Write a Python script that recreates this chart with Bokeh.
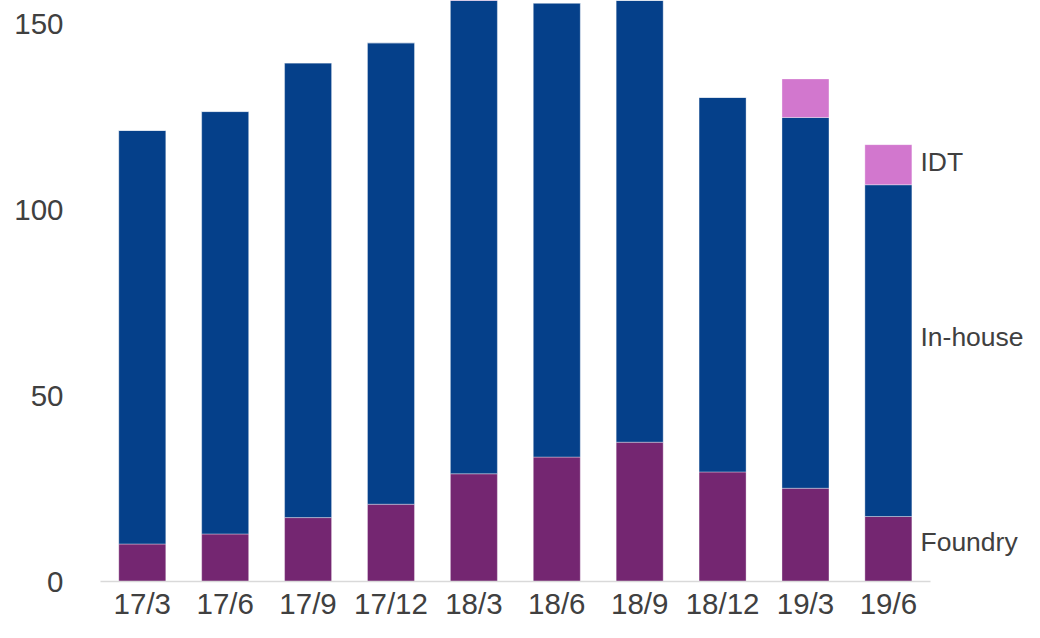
from bokeh.plotting import figure
from bokeh.models import ColumnDataSource, FixedTicker, Range1d
from bokeh.core.properties import value
from bokeh.embed import file_html
from bokeh.resources import INLINE

# ---- data ----
periods = ["17/3", "17/6", "17/9", "17/12", "18/3", "18/6", "18/9", "18/12", "19/3", "19/6"]
foundry = [10.1, 12.8, 17.2, 20.8, 29.0, 33.5, 37.5, 29.5, 25.1, 17.5]
inhouse = [111.3, 113.7, 122.4, 124.2, 128.5, 122.2, 118.9, 100.8, 99.8, 89.3]
idt = [0, 0, 0, 0, 0, 0, 0, 0, 10.4, 10.8]
series = ["Foundry", "In-house", "IDT"]
y_ticks = [0, 50, 100, 150]
label_values = [10.6, 65.7, 113.0]  # vertical centres of the right-hand series labels

colors = ["#742671", "#05408A", "#D277CE"]
text_color = "#404040"
font = "Liberation Sans"

idx = list(range(len(periods)))
source = ColumnDataSource(dict(idx=idx, Foundry=foundry, IDT=idt, **{"In-house": inhouse}))

p = figure(
    width=1024, height=622,
    x_range=Range1d(-0.504, 10.642),
    y_range=Range1d(0, 156.4),
    output_backend="svg", toolbar_location=None,
    min_border_left=100, min_border_right=0, min_border_top=0, min_border_bottom=40,
)
p.outline_line_color = None
p.background_fill_color = "white"
p.border_fill_color = "white"

p.vbar_stack(series, x="idx", width=0.567, source=source, color=colors,
             line_color="white", line_alpha=0.35, line_width=1)

p.xgrid.visible = False
p.ygrid.visible = False

# y axis
p.yaxis.ticker = FixedTicker(ticks=y_ticks)
p.yaxis.axis_line_color = None
p.yaxis.major_tick_line_color = None
p.yaxis.minor_tick_line_color = None
p.yaxis.major_tick_out = 0
p.yaxis.major_tick_in = 0
p.yaxis.major_label_standoff = 37
p.yaxis.major_label_text_font = font
p.yaxis.major_label_text_font_size = "29.5px"
p.yaxis.major_label_text_color = text_color

# x axis
p.xaxis.ticker = FixedTicker(ticks=idx)
p.xaxis.major_label_overrides = {i: lab for i, lab in zip(idx, periods)}
p.xaxis.bounds = (-0.504, len(periods) - 0.496)
p.xaxis.axis_line_color = "#D9D9D9"
p.xaxis.axis_line_width = 1.5
p.xaxis.major_tick_line_color = None
p.xaxis.minor_tick_line_color = None
p.xaxis.major_tick_out = 0
p.xaxis.major_tick_in = 0
p.xaxis.major_label_standoff = 5
p.xaxis.major_label_text_font = font
p.xaxis.major_label_text_font_size = "29.5px"
p.xaxis.major_label_text_color = text_color

# right-hand series labels (next to the last bar)
lab_src = ColumnDataSource(dict(x=[idx[-1] + 0.387] * len(series), y=label_values, text=series))
p.text(x="x", y="y", text="text", source=lab_src, text_font=value(font),
       text_font_size="26.5px", text_color=text_color,
       text_align="left", text_baseline="middle")

open("out.html", "w").write(file_html(p, INLINE))
